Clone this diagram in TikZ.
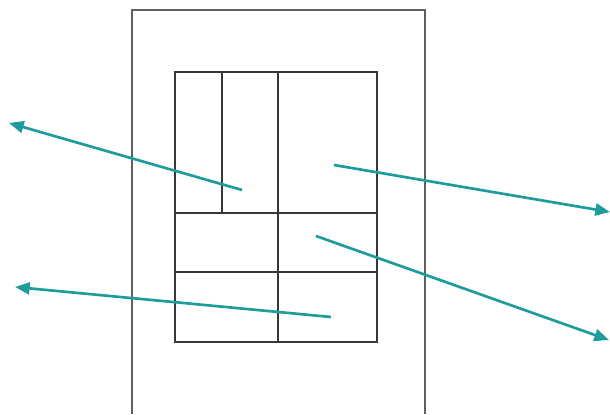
\documentclass[tikz,border=0pt]{standalone}
\usetikzlibrary{arrows.meta}
\definecolor{tealarrow}{RGB}{30,156,156}
\definecolor{frameline}{RGB}{95,95,95}
\definecolor{gridline}{RGB}{55,55,55}
\tikzset{
  outerframe/.style={draw=frameline, line width=1.2pt},
  innergrid/.style={draw=gridline, line width=1.1pt},
  flowarrow/.style={draw=tealarrow, line width=2pt, -{Triangle[length=11pt,width=9pt]}}
}
\begin{document}
\begin{tikzpicture}[x=0.75pt,y=0.75pt,yscale=-1,xscale=1]
\useasboundingbox (0,0) rectangle (610,414);
\fill[white] (0,0) rectangle (610,414);

%Outer frame (runs past bottom edge)
\draw[outerframe] (132,414) -- (132,10) -- (425,10) -- (425,414) ;

%Inner grid
\draw[innergrid] (175,72) rectangle (377,342) ;
\draw[innergrid] (222,72) -- (222,213) ;
\draw[innergrid] (278,72) -- (278,342) ;
\draw[innergrid] (175,213) -- (377,213) ;
\draw[innergrid] (175,272) -- (377,272) ;

%Arrow ends
\coordinate (aStart) at (242,190);
\coordinate (aEnd) at (9,123);
\coordinate (bStart) at (334,165);
\coordinate (bEnd) at (610,212);
\coordinate (cStart) at (316,236);
\coordinate (cEnd) at (609,340);
\coordinate (dStart) at (331,317);
\coordinate (dEnd) at (15,287);

%Arrows
\draw[flowarrow] (aStart) -- (aEnd) ;
\draw[flowarrow] (bStart) -- (bEnd) ;
\draw[flowarrow] (cStart) -- (cEnd) ;
\draw[flowarrow] (dStart) -- (dEnd) ;

\end{tikzpicture}
\end{document}
